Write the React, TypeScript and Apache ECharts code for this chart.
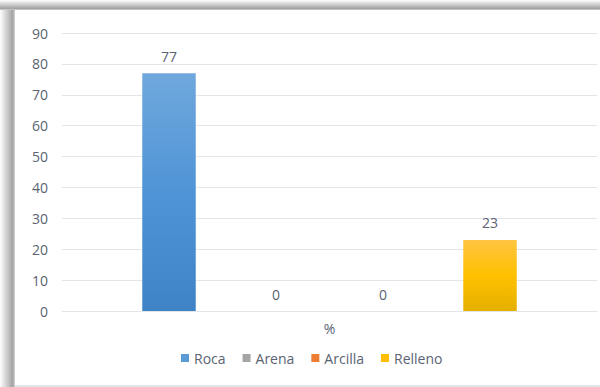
import React, { useEffect, useRef } from "react";
import * as echarts from "echarts";

const categories = ["%"];
const seriesNames = ["Roca", "Arena", "Arcilla", "Relleno"];
const roca = [77];
const arena = [0];
const arcilla = [0];
const relleno = [23];
const yMin = 0;
const yMax = 90;
const yStep = 10;

const FONT = "'Open Sans', sans-serif";
const TXT = "#5a6373";

function grad(top: string, mid: string, bottom: string) {
  return new echarts.graphic.LinearGradient(0, 0, 0, 1, [
    { offset: 0, color: top },
    { offset: 0.5, color: mid },
    { offset: 1, color: bottom },
  ]);
}

export default function App() {
  const ref = useRef<HTMLDivElement>(null);
  useEffect(() => {
    if (!ref.current) return;
    const chart = echarts.init(ref.current, null, { renderer: "svg" });
    const label = {
      show: true,
      position: "top" as const,
      distance: 10,
      color: TXT,
      fontSize: 14,
      fontFamily: FONT,
    };
    const mk = (name: string, data: number[], color: any) => ({
      name,
      type: "bar" as const,
      data,
      barGap: "100%",
      barCategoryGap: "30%",
      itemStyle: { color },
      label,
      emphasis: { disabled: true },
    });
    chart.setOption({
      animation: false,
      backgroundColor: "#ffffff",
      color: ["#5b9bd5", "#a5a5a5", "#ed7d31", "#ffc000"],
      graphic: [
        {
          type: "rect",
          shape: { x: 0, y: 0, width: 15, height: 387 },
          style: {
            fill: new echarts.graphic.LinearGradient(0, 0, 1, 0, [
              { offset: 0, color: "#ffffff" },
              { offset: 0.85, color: "#a3a3a3" },
              { offset: 1, color: "#d6d6d6" },
            ]),
          },
          silent: true,
        },
        {
          type: "rect",
          shape: { x: 0, y: 0, width: 600, height: 10 },
          style: {
            fill: new echarts.graphic.LinearGradient(0, 0, 0, 1, [
              { offset: 0, color: "#ffffff" },
              { offset: 0.85, color: "#a3a3a3" },
              { offset: 1, color: "#d6d6d6" },
            ]),
          },
          silent: true,
        },
        {
          type: "rect",
          shape: { x: 15, y: 385, width: 585, height: 2 },
          style: { fill: "#e3e6ea" },
          silent: true,
        },
      ],
      grid: { left: 62, right: 3, top: 33, bottom: 76, containLabel: false },
      legend: {
        data: seriesNames.map((n, i) => ({
          name: n,
          itemStyle: { color: ["#5b9bd5", "#a5a5a5", "#ed7d31", "#ffc000"][i] },
        })),
        left: 176,
        top: 346,
        icon: "rect",
        itemWidth: 8,
        itemHeight: 8,
        itemGap: 17,
        textStyle: { color: TXT, fontSize: 14, fontFamily: FONT },
        selectedMode: false,
      },
      xAxis: {
        type: "category",
        data: categories,
        axisLine: { show: true, lineStyle: { color: "#e2e5ea" } },
        axisTick: { show: false },
        axisLabel: { color: TXT, fontSize: 14, fontFamily: FONT, margin: 10 },
      },
      yAxis: {
        type: "value",
        min: yMin,
        max: yMax,
        interval: yStep,
        axisLine: { show: false },
        axisTick: { show: false },
        axisLabel: { color: TXT, fontSize: 14, fontFamily: FONT, margin: 14 },
        splitLine: { lineStyle: { color: "#e2e5ea" } },
      },
      series: [
        mk("Roca", roca, grad("#70a8dd", "#4f94d6", "#3d83c5")),
        mk("Arena", arena, "#a5a5a5"),
        mk("Arcilla", arcilla, "#ed7d31"),
        mk("Relleno", relleno, grad("#ffc542", "#ffc000", "#e4b000")),
      ],
    });
    return () => chart.dispose();
  }, []);
  return (
    <div
      ref={ref}
      style={{ position: "absolute", left: 0, top: 0, width: 600, height: 387 }}
    />
  );
}
